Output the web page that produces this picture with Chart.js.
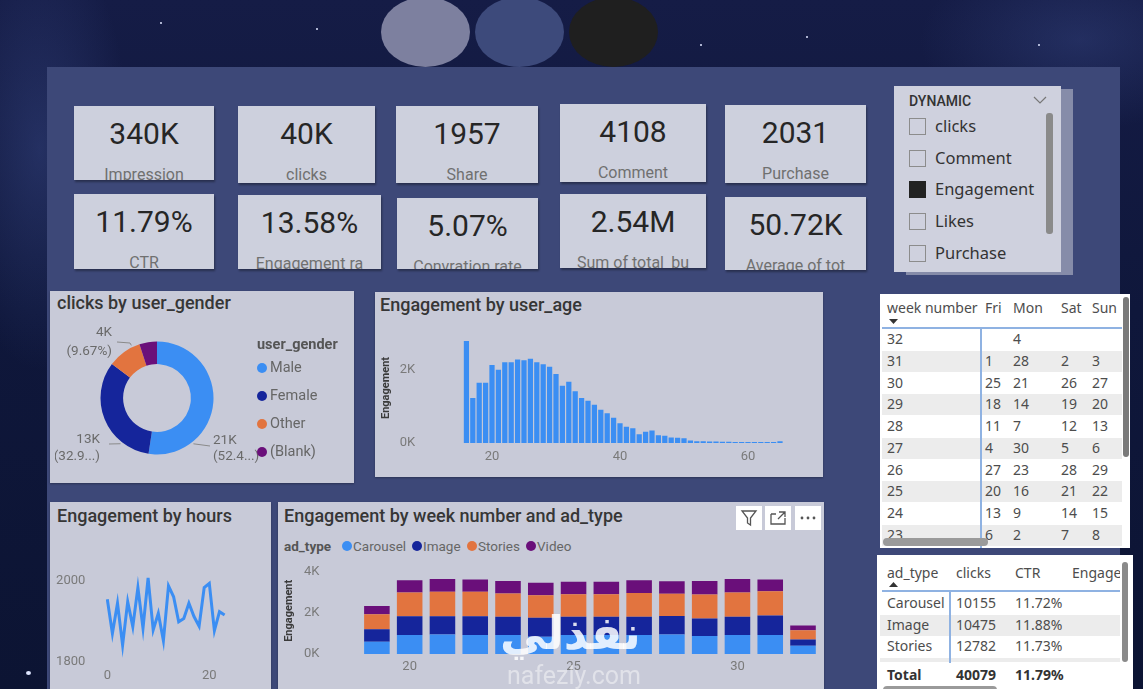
<!DOCTYPE html>
<html lang="en">
<head>
<meta charset="UTF-8">
<title>Ads engagement dashboard</title>
<script src="https://cdn.jsdelivr.net/npm/chart.js"></script>
<style>
  html, body { margin: 0; padding: 0; }
  body {
    width: 1143px; height: 689px; overflow: hidden; position: relative;
    font-family: 'Noto Sans', sans-serif;
    background:
      radial-gradient(ellipse 90px 220px at 40px 150px, rgba(70,90,160,0.35), transparent),
      radial-gradient(ellipse 160px 90px at 1080px 40px, rgba(70,90,160,0.3), transparent),
      linear-gradient(180deg, #151c46 0%, #0f173b 45%, #0c1433 100%);
  }
  .abs { position: absolute; }
  .ell { top: -3px; width: 89px; height: 70px; border-radius: 50%; }
  .star { position: absolute; width: 2px; height: 2px; border-radius: 50%; background: #dfe6ff; }
  #board { left: 47px; top: 67px; width: 1073px; height: 622px; background: #3d4878; }
  .card { position: absolute; background: #cdd0dd; overflow: hidden; box-shadow: 1px 2px 2px rgba(0,0,0,0.35); }
  .card .v { position: absolute; left: 0; right: 0; top: 11px; text-align: center; font: 400 30px Roboto; color: #262626; line-height: 34px; }
  .card .l { position: absolute; left: 0; right: 0; top: 59px; text-align: center; font: 400 16px Roboto; color: #707070; line-height: 20px; white-space: nowrap; }
  .panel { position: absolute; background: #c8cad8; box-shadow: 0 1px 2px rgba(0,0,0,0.3); }
  .ptitle { position: absolute; font: 500 18px Roboto; color: #363636; line-height: 20px; white-space: nowrap; }
  canvas { position: absolute; }
  .leg { position: absolute; font: 400 14.5px Roboto; color: #666; line-height: 18px; white-space: nowrap; }
  .dot { position: absolute; width: 10px; height: 10px; border-radius: 50%; }
  .tbl { position: absolute; background: #fff; overflow: hidden; font: 400 14px 'Noto Sans'; color: #4d4d4d; }
  .tbl span { position: absolute; line-height: 20px; white-space: nowrap; }
  .icon { position: absolute; top: 506px; width: 26px; height: 24px; background: #fff; }
</style>
</head>
<body>
<div class="abs ell" style="left:381px;background:#7d809f"></div>
<div class="abs ell" style="left:475px;background:#3d4a7b"></div>
<div class="abs ell" style="left:569px;background:#1f1f1f"></div>
<div class="star" style="left:160px;top:22px"></div>
<div class="star" style="left:316px;top:28px"></div>
<div class="star" style="left:700px;top:44px"></div>
<div class="star" style="left:806px;top:36px"></div>
<div class="star" style="left:1038px;top:44px"></div>
<div class="star" style="left:26px;top:671px;width:5px;height:4px"></div>
<div id="board" class="abs"></div>

<div id="cards"></div>
<div id="slicer" class="abs" style="left:894px;top:86px;width:167px;height:186px;background:#cfd1de;box-shadow:12px 3px 0 #868ca9"></div>

<div class="panel" style="left:50px;top:291px;width:304px;height:192px"></div>
<div class="ptitle" style="left:57px;top:293px">clicks by user_gender</div>
<div class="panel" style="left:375px;top:292px;width:448px;height:185px"></div>
<div class="ptitle" style="left:380px;top:295px">Engagement by user_age</div>
<div class="panel" style="left:50px;top:502px;width:221px;height:190px"></div>
<div class="ptitle" style="left:57px;top:506px">Engagement by hours</div>
<div class="panel" style="left:278px;top:502px;width:546px;height:190px"></div>
<div class="ptitle" style="left:284px;top:506px">Engagement by week number and ad_type</div>

<canvas id="donut" width="215" height="160" style="left:55px;top:318px"></canvas>
<div id="genderLegend"></div>
<canvas id="ageChart" width="440" height="145" style="left:380px;top:325px"></canvas>
<canvas id="hourChart" width="215" height="134" style="left:52px;top:555px"></canvas>
<div id="adLegend"></div>
<canvas id="weekChart" width="541" height="132" style="left:283px;top:557px"></canvas>

<div class="icon" style="left:736px"><svg width="26" height="24"><path d="M6 5 H20 L14.5 12 V19 L11.5 17 V12 Z" fill="none" stroke="#555" stroke-width="1.3"/></svg></div>
<div class="icon" style="left:765px"><svg width="26" height="24"><path d="M6 8 V18 H20 V12 M6 8 H11 M14 6 H20 V11 M20 6 L13 13" fill="none" stroke="#555" stroke-width="1.3"/></svg></div>
<div class="icon" style="left:795px"><svg width="26" height="24"><circle cx="7" cy="12" r="1.4" fill="#555"/><circle cx="13" cy="12" r="1.4" fill="#555"/><circle cx="19" cy="12" r="1.4" fill="#555"/></svg></div>

<div id="weekTable" class="tbl" style="left:880px;top:294px;width:250px;height:254px"></div>
<div id="adTable" class="tbl" style="left:877px;top:555px;width:256px;height:134px"></div>

<div class="abs" style="left:500px;top:606px;font:bold 46px 'DejaVu Sans';color:rgba(255,255,255,0.85);z-index:5">نفذلي</div>
<div class="abs" style="left:507px;top:661px;font:400 25px Roboto;color:rgba(255,255,255,0.45);z-index:5">nafezly.com</div>

<script>
// KPI cards
const kpiValues = ['340K', '40K', '1957', '4108', '2031', '11.79%', '13.58%', '5.07%', '2.54M', '50.72K'];
const kpiLabels = ['Impression', 'clicks', 'Share', 'Comment', 'Purchase', 'CTR', 'Engagement ra', 'Convration rate', 'Sum of total_bu', 'Average of tot'];

// slicer
const slicerTitle = 'DYNAMIC';
const slicerItems = ['clicks', 'Comment', 'Engagement', 'Likes', 'Purchase'];
const slicerSelected = 'Engagement';

// clicks by user_gender
const genders = ['Male', 'Female', 'Other', '(Blank)'];
const genderClicks = [21001, 13186, 3876, 2016];

// Engagement by user_age
const ages = [16, 17, 18, 19, 20, 21, 22, 23, 24, 25, 26, 27, 28, 29, 30, 31, 32, 33, 34, 35, 36, 37, 38, 39, 40,
  41, 42, 43, 44, 45, 46, 47, 48, 49, 50, 51, 52, 53, 54, 55, 56, 57, 58, 59, 60, 61, 62, 63, 64, 65];
const ageEngagement = [2780, 1230, 1640, 1640, 2130, 2000, 2200, 2200, 2280, 2260, 2300, 2200, 2150, 2080, 1880,
  1560, 1670, 1410, 1230, 1150, 1040, 910, 810, 690, 540, 440, 400, 240, 310, 340, 210, 200, 150, 140, 130,
  70, 50, 45, 40, 40, 35, 35, 30, 30, 30, 30, 30, 30, 30, 50];
const ageYTicks = [0, 2000];
const ageXTicks = [20, 40, 60];

// Engagement by hours
const hours = [0, 1, 2, 3, 4, 5, 6, 7, 8, 9, 10, 11, 12, 13, 14, 15, 16, 17, 18, 19, 20, 21, 22, 23];
const hourEngagement = [1955, 1870, 1945, 1841, 1949, 1887, 1984, 1883, 2008, 1879, 1920, 1852,
  1988, 1961, 1899, 1907, 1945, 1912, 1888, 1984, 1994, 1877, 1924, 1916];
const hourYTicks = [1800, 2000];
const hourXTicks = [0, 20];

// Engagement by week number and ad_type
const weekNumbers = [19, 20, 21, 22, 23, 24, 25, 26, 27, 28, 29, 30, 31, 32];
const adTypes = ['Carousel', 'Image', 'Stories', 'Video'];
const carouselEng = [600, 920, 950, 920, 920, 840, 920, 920, 920, 950, 870, 920, 920, 400];
const imageEng = [600, 920, 890, 920, 890, 920, 890, 890, 890, 900, 860, 890, 950, 310];
const storiesEng = [730, 1150, 1180, 1180, 1130, 1100, 1100, 1100, 1160, 1080, 1160, 1180, 1180, 450];
const videoEng = [400, 600, 630, 600, 610, 600, 600, 600, 610, 610, 660, 650, 570, 230];
const weekYTicks = [0, 2000, 4000];
const weekXTicks = [20, 25, 30];

// week number table
const weekRows = ['32', '31', '30', '29', '28', '27', '26', '25', '24', '23'];
const friDays = ['', '1', '25', '18', '11', '4', '27', '20', '13', '6'];
const monDays = ['4', '28', '21', '14', '7', '30', '23', '16', '9', '2'];
const satDays = ['', '2', '26', '19', '12', '5', '28', '21', '14', '7'];
const sunDays = ['', '3', '27', '20', '13', '6', '29', '22', '15', '8'];

// ad_type table
const adRows = ['Carousel', 'Image', 'Stories', 'Video'];
const adClicks = ['10155', '10475', '12782', '6667'];
const adCtr = ['11.72%', '11.88%', '11.73%', '11.90%'];
const adTotal = ['Total', '40079', '11.79%'];

const BLUE = '#3b8ef3', NAVY = '#15259b', ORANGE = '#e2743f', PURPLE = '#6a0f7a';
const genderColors = [BLUE, NAVY, ORANGE, PURPLE];
const adColors = [BLUE, NAVY, ORANGE, PURPLE];

// ---- cards
const cardBoxes = [
  [74, 106, 140, 74], [238, 106, 137, 77], [396, 106, 142, 77], [560, 104, 146, 78], [725, 105, 141, 78],
  [74, 194, 140, 75], [238, 195, 143, 74], [397, 198, 141, 71], [560, 194, 146, 74], [725, 197, 141, 73]
];
const cardsDiv = document.getElementById('cards');
kpiValues.forEach((v, i) => {
  const [x, y, w, h] = cardBoxes[i];
  const c = document.createElement('div');
  c.className = 'card';
  c.style.cssText = `left:${x}px;top:${y}px;width:${w}px;height:${h}px`;
  c.innerHTML = `<div class="v">${v}</div><div class="l">${kpiLabels[i]}</div>`;
  cardsDiv.appendChild(c);
});

// ---- slicer
const slicer = document.getElementById('slicer');
slicer.innerHTML = `<div class="abs" style="left:15px;top:5px;font:500 14px Roboto;color:#333;line-height:20px">${slicerTitle}</div>
  <svg class="abs" style="left:139px;top:10px" width="14" height="8"><path d="M1 1 L7 7 L13 1" fill="none" stroke="#777" stroke-width="1.2"/></svg>
  <div class="abs" style="left:152px;top:27px;width:7px;height:121px;background:#8a8a8a;border-radius:3px"></div>`;
slicerItems.forEach((t, i) => {
  const cy = 40 + i * 31.7;
  const on = t === slicerSelected;
  slicer.insertAdjacentHTML('beforeend',
    `<div class="abs" style="left:15px;top:${cy - 8}px;width:15px;height:15px;border:1px solid ${on ? '#222' : '#8c8c8c'};background:${on ? '#222' : 'transparent'}"></div>
     <div class="abs" style="left:41px;top:${cy - 12}px;font:400 16.5px 'Noto Sans';color:#333;line-height:24px">${t}</div>`);
});

// ---- legends
const gLeg = document.getElementById('genderLegend');
gLeg.innerHTML = `<div class="leg" style="left:257px;top:336px;font-weight:700;color:#555">user_gender</div>`;
genders.forEach((g, i) => {
  const cy = 368.3 + i * 27.8;
  gLeg.insertAdjacentHTML('beforeend',
    `<div class="dot" style="left:257px;top:${cy - 5}px;background:${genderColors[i]}"></div>
     <div class="leg" style="left:270px;top:${cy - 9}px">${g}</div>`);
});
const aLeg = document.getElementById('adLegend');
aLeg.innerHTML = `<div class="leg" style="left:284px;top:537px;font-size:13.5px;font-weight:700;color:#555">ad_type</div>`;
let lx = 342;
adTypes.forEach((a, i) => {
  aLeg.insertAdjacentHTML('beforeend',
    `<div class="dot" style="left:${lx}px;top:541px;background:${adColors[i]}"></div>
     <div class="leg" id="al${i}" style="left:${lx + 11}px;top:537px;font-size:13.5px">${a}</div>`);
  lx += 11 + document.getElementById('al' + i).offsetWidth + 6;
});

// ---- tables
const wt = document.getElementById('weekTable');
const wCols = [7, 105, 133, 181, 212];
let h = `<span style="left:7px;top:4px">week number</span>
  <svg class="abs" style="left:9px;top:25px" width="10" height="5"><path d="M0 0 H9 L4.5 5 Z" fill="#333"/></svg>
  <span style="left:105px;top:4px">Fri</span><span style="left:133px;top:4px">Mon</span>
  <span style="left:181px;top:4px">Sat</span><span style="left:212px;top:4px">Sun</span>`;
weekRows.forEach((w, i) => {
  const top = 35 + i * 21.75;
  if (i % 2 === 1) h += `<div class="abs" style="left:2px;top:${top}px;width:240px;height:21px;background:#ececec"></div>`;
  [w, friDays[i], monDays[i], satDays[i], sunDays[i]].forEach((t, j) => {
    h += `<span style="left:${wCols[j]}px;top:${top}px">${t}</span>`;
  });
});
h += `<div class="abs" style="left:2px;top:33px;width:240px;height:1.5px;background:#8fb2e2"></div>
  <div class="abs" style="left:100px;top:33px;width:1.5px;height:230px;background:#8fb2e2"></div>
  <div class="abs" style="left:243px;top:3px;width:6px;height:160px;background:#7a7a7a;border-radius:3px"></div>
  <div class="abs" style="left:3px;top:244px;width:105px;height:8px;background:#9a9a9a;border-radius:4px"></div>`;
wt.innerHTML = h;

const at = document.getElementById('adTable');
const aCols = [10, 79, 138, 195];
let g = `<span style="left:10px;top:8px">ad_type</span>
  <svg class="abs" style="left:12px;top:27px" width="10" height="5"><path d="M0 5 H9 L4.5 0 Z" fill="#333"/></svg>
  <span style="left:79px;top:8px">clicks</span><span style="left:138px;top:8px">CTR</span>
  <span style="left:195px;top:8px">Engagement</span>`;
adRows.forEach((r, i) => {
  const top = 38 + i * 21.7;
  if (i % 2 === 1) g += `<div class="abs" style="left:3px;top:${top}px;width:240px;height:21px;background:#ececec"></div>`;
  [r, adClicks[i], adCtr[i]].forEach((t, j) => {
    g += `<span style="left:${aCols[j]}px;top:${top}px">${t}</span>`;
  });
});
g += `<div class="abs" style="left:3px;top:107px;width:250px;height:27px;background:#fff"></div>`;
adTotal.forEach((t, j) => {
  g += `<span style="left:${aCols[j]}px;top:110px;font-weight:700;color:#333">${t}</span>`;
});
g += `<div class="abs" style="left:5px;top:35px;width:240px;height:1.5px;background:#8fb2e2"></div>
  <div class="abs" style="left:72px;top:36px;width:1.5px;height:72px;background:#8fb2e2"></div>
  <div class="abs" style="left:243px;top:0;width:13px;height:134px;background:#fff"></div>
  <div class="abs" style="left:245px;top:7px;width:6px;height:100px;background:#8a8a8a;border-radius:3px"></div>
  <div class="abs" style="left:6px;top:131px;width:114px;height:8px;background:#9a9a9a;border-radius:4px"></div>`;
at.innerHTML = g;

// ---- charts
Chart.defaults.font.family = 'Roboto';
Chart.defaults.font.size = 13;
Chart.defaults.color = '#7a7a7a';
Chart.defaults.animation = false;
Chart.defaults.plugins.legend.display = false;
Chart.defaults.plugins.tooltip.enabled = false;

const kLabel = v => (v / 1000) + 'K';
const noGrid = { display: false, drawTicks: false };
// fixed axis width; drop the vertical padding that the big tick padding would add
const fixWidth = w => s => { s.width = w; s.paddingTop = 0; s.paddingBottom = 0; };
const useTicks = list => s => { s.ticks = list.map(v => ({ value: v })); };
const showOnly = (labels, list) => (v, i) => list.includes(labels[i]) ? String(labels[i]) : '';

// donut labels with leader lines, placed around the arc geometry
const donutSpots = [
  { index: 0, angle: 51.5, knee: null, end: [53, 48], textX: 56, align: 'left', lines: [43, 59] },
  { index: 1, angle: 128.6, knee: null, end: [-48, 46], textX: -57, align: 'right', lines: [42, 59] },
  { index: 2, angle: 244, knee: [-27, -55], end: [-40, -56], textX: -45, align: 'right', lines: [-65, -46] }
];
const donutLabels = {
  id: 'donutLabels',
  afterDatasetsDraw(chart) {
    const ctx = chart.ctx;
    const meta = chart.getDatasetMeta(0);
    const total = genderClicks.reduce((a, b) => a + b, 0);
    ctx.save();
    donutSpots.forEach(s => {
      const arc = meta.data[s.index];
      const cx = arc.x, cy = arc.y, r = arc.outerRadius;
      const a = s.angle * Math.PI / 180;
      ctx.strokeStyle = '#8a8a8a';
      ctx.lineWidth = 1;
      ctx.beginPath();
      ctx.moveTo(cx + Math.cos(a) * (r + 2), cy + Math.sin(a) * (r + 2));
      if (s.knee) ctx.lineTo(cx + s.knee[0], cy + s.knee[1]);
      ctx.lineTo(cx + s.end[0], cy + s.end[1]);
      ctx.stroke();
      const val = genderClicks[s.index];
      const pct = val / total * 100;
      const pctText = pct >= 10 ? '(' + pct.toFixed(2).slice(0, 4) + '...)' : '(' + pct.toFixed(2) + '%)';
      ctx.fillStyle = '#6a6a6a';
      ctx.font = '13.5px Roboto';
      ctx.textAlign = s.align;
      ctx.textBaseline = 'middle';
      ctx.fillText(Math.round(val / 1000) + 'K', cx + s.textX, cy + s.lines[0]);
      ctx.fillText(pctText, cx + s.textX, cy + s.lines[1]);
    });
    ctx.restore();
  }
};

new Chart(document.getElementById('donut'), {
  type: 'doughnut',
  data: { labels: genders, datasets: [{ data: genderClicks, backgroundColor: genderColors, borderWidth: 0, hoverOffset: 0 }] },
  options: {
    responsive: false,
    cutout: '60%',
    layout: { padding: { left: 45.5, right: 56.5, top: 23.5, bottom: 23.5 } }
  },
  plugins: [donutLabels]
});

new Chart(document.getElementById('ageChart'), {
  type: 'bar',
  data: { labels: ages, datasets: [{ data: ageEngagement, backgroundColor: BLUE, barPercentage: 0.82, categoryPercentage: 1 }] },
  options: {
    responsive: false,
    layout: { padding: { top: 8, right: 36.8, left: 0, bottom: 0 } },
    scales: {
      x: {
        grid: noGrid, border: { display: false },
        ticks: { autoSkip: false, maxRotation: 0, padding: 6, callback: showOnly(ages, ageXTicks) },
        afterFit: s => { s.height = 27; }
      },
      y: {
        min: 0, max: 3000,
        grid: noGrid, border: { display: false },
        ticks: { autoSkip: false, padding: 48, callback: kLabel },
        afterBuildTicks: useTicks(ageYTicks),
        afterFit: fixWidth(83.2),
        title: { display: true, text: 'Engagement', color: '#3a3a3a', font: { size: 11, weight: 'bold' }, padding: 0 }
      }
    }
  }
});

new Chart(document.getElementById('hourChart'), {
  type: 'line',
  data: { labels: hours, datasets: [{ data: hourEngagement, borderColor: BLUE, borderWidth: 3, pointRadius: 0, tension: 0 }] },
  options: {
    responsive: false,
    layout: { padding: { top: 9.9, right: 42.4, left: 0, bottom: 0 } },
    scales: {
      x: {
        grid: noGrid, border: { display: false },
        ticks: { autoSkip: false, maxRotation: 0, padding: 6, callback: showOnly(hours, hourXTicks) },
        afterFit: s => { s.height = 27.3; }
      },
      y: {
        min: 1800, max: 2040,
        grid: noGrid, border: { display: false },
        ticks: { autoSkip: false, padding: 22, callback: v => String(v) },
        afterBuildTicks: useTicks(hourYTicks),
        afterFit: fixWidth(55.3)
      }
    }
  }
});

const weekSeries = [carouselEng, imageEng, storiesEng, videoEng];
new Chart(document.getElementById('weekChart'), {
  type: 'bar',
  data: {
    labels: weekNumbers,
    datasets: adTypes.map((a, i) => ({ label: a, data: weekSeries[i], backgroundColor: adColors[i], barPercentage: 0.78, categoryPercentage: 1 }))
  },
  options: {
    responsive: false,
    layout: { padding: { top: 10.6, right: 4.6, left: 0, bottom: 0 } },
    scales: {
      x: {
        stacked: true,
        grid: noGrid, border: { display: false },
        ticks: { autoSkip: false, maxRotation: 0, padding: 5, callback: showOnly(weekNumbers, weekXTicks) },
        afterFit: s => { s.height = 35; }
      },
      y: {
        stacked: true, min: 0, max: 4200,
        grid: noGrid, border: { display: false },
        ticks: { autoSkip: false, padding: 41, callback: kLabel },
        afterBuildTicks: useTicks(weekYTicks),
        afterFit: fixWidth(77.5),
        title: { display: true, text: 'Engagement', color: '#3a3a3a', font: { size: 11, weight: 'bold' }, padding: 0 }
      }
    }
  }
});
</script>
</body>
</html>
